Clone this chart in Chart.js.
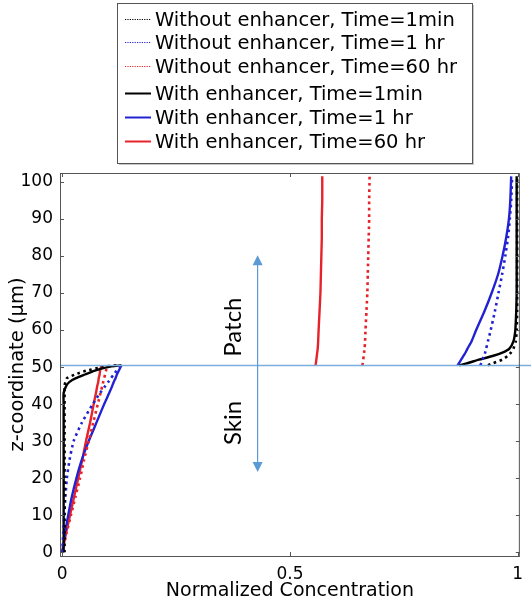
<!DOCTYPE html>
<html><head><meta charset="utf-8">
<script src="https://cdn.jsdelivr.net/npm/chart.js@4.4.1/dist/chart.umd.min.js"></script>
<style>html,body{margin:0;padding:0;background:#fff;}canvas{display:block;}</style>
</head><body>
<canvas id="c" width="531" height="607"></canvas>
<script>
// ---------- DATA ----------
const seriesLabels = [
  'Without enhancer, Time=1min',
  'Without enhancer, Time=1 hr',
  'Without enhancer, Time=60 hr',
  'With enhancer, Time=1min',
  'With enhancer, Time=1 hr',
  'With enhancer, Time=60 hr'
];
const skinZ  = [0,5,10,15,20,25,30,35,40,43,45,46,47,48,49,50,50.5];
const patchZ = [50.5,51,52,53,54,55,57,60,65,70,75,80,85,90,95,101.5];

// skin layer (z = 0..50.5), normalized concentration
const woSkin1min  = [0.005,0.005,0.005,0.005,0.005,0.005,0.005,0.005,0.005,0.005,0.005,0.007,0.010,0.028,0.052,0.088,0.120];
const woSkin1hr   = [0,0.002,0.004,0.007,0.010,0.016,0.025,0.043,0.067,0.083,0.095,0.101,0.107,0.113,0.119,0.125,0.128];
const woSkin60hr  = [0,0.009,0.019,0.029,0.039,0.048,0.058,0.068,0.078,0.084,0.088,0.090,0.092,0.094,0.096,0.098,0.099];
const wSkin1min   = [0.003,0.003,0.003,0.003,0.003,0.003,0.003,0.003,0.003,0.003,0.009,0.016,0.030,0.050,0.070,0.100,0.130];
const wSkin1hr    = [0,0.006,0.013,0.021,0.031,0.043,0.058,0.075,0.092,0.103,0.110,0.113,0.117,0.120,0.124,0.128,0.130];
const wSkin60hr   = [0,0.008,0.017,0.026,0.035,0.044,0.052,0.061,0.069,0.074,0.077,0.079,0.080,0.082,0.083,0.085,0.086];

// patch layer (z = 50.5..101.5)
const woPatch1min = [0.935,0.945,0.966,0.978,0.986,0.991,0.996,0.998,0.999,0.999,0.999,0.999,0.999,0.999,0.999,0.999];
const woPatch1hr  = [0.918,0.920,0.923,0.926,0.929,0.931,0.935,0.941,0.950,0.958,0.966,0.973,0.979,0.983,0.986,0.988];
const woPatch60hr = [0.659,0.660,0.661,0.662,0.663,0.664,0.665,0.666,0.668,0.670,0.671,0.672,0.673,0.674,0.674,0.675];
const wPatch1min  = [0.872,0.888,0.915,0.945,0.968,0.982,0.991,0.995,0.997,0.998,0.998,0.998,0.998,0.998,0.998,0.998];
const wPatch1hr   = [0.868,0.871,0.876,0.881,0.886,0.890,0.899,0.909,0.927,0.943,0.957,0.967,0.975,0.981,0.984,0.986];
const wPatch60hr  = [0.556,0.557,0.558,0.559,0.560,0.561,0.562,0.563,0.565,0.567,0.568,0.569,0.570,0.570,0.571,0.571];

const xTicks = [0, 0.5, 1];
const yTicks = [0,10,20,30,40,50,60,70,80,90,100];
const interfaceZ = 50.5;
const regionLabels = ['Patch', 'Skin'];

// ---------- BUILD ----------
const BLACK = '#000000', BLUE = '#2222d4', RED = '#e6222a';
function pts(zs, cs) { return zs.map((z, i) => ({ x: cs[i], y: z })); }
function series(label, skin, patch, color, dotted) {
  return {
    label,
    data: pts(skinZ, skin).concat([{ x: null, y: null }], pts(patchZ, patch)),
    borderColor: color, backgroundColor: color,
    borderWidth: dotted ? 2.6 : 2.4,
    borderDash: dotted ? [2.6, 3.6] : [],
    borderCapStyle: 'butt',
    showLine: true, pointRadius: 0, tension: 0.2, spanGaps: false,
    _dotted: dotted
  };
}
const datasets = [
  series(seriesLabels[0], woSkin1min, woPatch1min, BLACK, true),
  series(seriesLabels[1], woSkin1hr, woPatch1hr, BLUE, true),
  series(seriesLabels[2], woSkin60hr, woPatch60hr, RED, true),
  series(seriesLabels[3], wSkin1min, wPatch1min, BLACK, false),
  series(seriesLabels[4], wSkin1hr, wPatch1hr, BLUE, false),
  series(seriesLabels[5], wSkin60hr, wPatch60hr, RED, false)
];

const decor = {
  id: 'decor',
  afterDatasetsDraw(chart) {
    const ctx = chart.ctx, a = chart.chartArea;
    const xs = chart.scales.x, ys = chart.scales.y;
    ctx.save();
    // interface line
    const yi = Math.round(ys.getPixelForValue(interfaceZ)) + 0.5;
    ctx.strokeStyle = '#7aaede'; ctx.lineWidth = 1.3;
    ctx.beginPath(); ctx.moveTo(a.left, yi); ctx.lineTo(chart.width, yi); ctx.stroke();
    // arrow
    const ax = xs.getPixelForValue(0.429);
    const yTop = ys.getPixelForValue(80.2), yBot = ys.getPixelForValue(21.7);
    ctx.strokeStyle = '#5b9bd5'; ctx.fillStyle = '#5b9bd5'; ctx.lineWidth = 1.2;
    ctx.beginPath(); ctx.moveTo(ax, yTop + 8); ctx.lineTo(ax, yBot - 8); ctx.stroke();
    ctx.beginPath(); ctx.moveTo(ax, yTop); ctx.lineTo(ax - 5, yTop + 10); ctx.lineTo(ax + 5, yTop + 10); ctx.closePath(); ctx.fill();
    ctx.beginPath(); ctx.moveTo(ax, yBot); ctx.lineTo(ax - 5, yBot - 10); ctx.lineTo(ax + 5, yBot - 10); ctx.closePath(); ctx.fill();
    // region labels
    ctx.fillStyle = '#000'; ctx.font = '24px Lato'; ctx.textAlign = 'center'; ctx.textBaseline = 'middle';
    const tx = xs.getPixelForValue(0.376);
    [[regionLabels[0], 60.8], [regionLabels[1], 34.9]].forEach(([t, z]) => {
      ctx.save(); ctx.translate(tx, ys.getPixelForValue(z)); ctx.rotate(-Math.PI / 2);
      ctx.fillText(t, 0, 0); ctx.restore();
    });
    // frame
    ctx.strokeStyle = '#555'; ctx.lineWidth = 1;
    ctx.strokeRect(a.left + 0.5, a.top + 0.5, a.right - a.left - 1, a.bottom - a.top);
    // inward ticks
    ctx.strokeStyle = '#555';
    ctx.beginPath();
    yTicks.forEach(v => {
      const y = Math.round(ys.getPixelForValue(v)) + 0.5;
      ctx.moveTo(a.left, y); ctx.lineTo(a.left + 4, y);
      ctx.moveTo(a.right, y); ctx.lineTo(a.right - 4, y);
    });
    xTicks.forEach(v => {
      const x = Math.round(xs.getPixelForValue(v)) + 0.5;
      ctx.moveTo(x, a.bottom); ctx.lineTo(x, a.bottom - 4);
      ctx.moveTo(x, a.top); ctx.lineTo(x, a.top + 4);
    });
    ctx.stroke();
    ctx.restore();
  },
  afterDraw(chart) {
    // legend box
    const ctx = chart.ctx;
    ctx.save();
    const L = 117, T = 3, W = 355, H = 160;
    ctx.fillStyle = '#c8c8c8'; ctx.fillRect(L + 2, T + 2, W, H);
    ctx.fillStyle = '#fff'; ctx.fillRect(L, T, W, H);
    ctx.strokeStyle = '#555'; ctx.lineWidth = 1; ctx.strokeRect(L + 0.5, T + 0.5, W, H);
    const rows = [19, 42, 66, 93, 117, 141];
    ctx.font = '19.5px "DejaVu Sans"'; ctx.textBaseline = 'middle'; ctx.textAlign = 'left';
    chart.data.datasets.forEach((d, i) => {
      const y = rows[i] + 0.5;
      ctx.strokeStyle = d.borderColor;
      ctx.lineWidth = d._dotted ? 1 : 2;
      ctx.setLineDash(d._dotted ? [1.2, 1.2] : []);
      ctx.beginPath(); ctx.moveTo(125, y); ctx.lineTo(151, y); ctx.stroke();
      ctx.setLineDash([]);
      ctx.fillStyle = '#000';
      ctx.fillText(d.label, 155, y + 1);
    });
    ctx.restore();
  }
};

new Chart(document.getElementById('c'), {
  type: 'scatter',
  data: { datasets },
  options: {
    responsive: false, animation: false, devicePixelRatio: 1,
    layout: { padding: { top: 173, right: 2, left: 0, bottom: 0 } },
    plugins: { legend: { display: false }, tooltip: { enabled: false } },
    scales: {
      x: {
        type: 'linear', min: -0.005, max: 1.005,
        afterFit(s) { s.height = 51; },
        afterBuildTicks(s) { s.ticks = xTicks.map(v => ({ value: v })); },
        grid: { display: false, drawTicks: false }, border: { display: false },
        ticks: { color: '#000', font: { family: 'DejaVu Sans', size: 17 }, padding: 8, maxRotation: 0, callback: v => String(v) },
        title: { display: true, text: 'Normalized Concentration', color: '#000', font: { family: 'DejaVu Sans', size: 19 }, padding: { top: 0, bottom: 5 } }
      },
      y: {
        type: 'linear', min: -1, max: 102.4,
        afterFit(s) { s.width = 60; },
        afterBuildTicks(s) { s.ticks = yTicks.map(v => ({ value: v })); },
        grid: { display: false, drawTicks: false }, border: { display: false },
        ticks: { color: '#000', font: { family: 'DejaVu Sans', size: 17 }, padding: 7, callback: v => String(v) },
        title: { display: true, text: 'z-coordinate (μm)', color: '#000', font: { family: 'DejaVu Sans', size: 19.5 }, padding: { top: 6, bottom: 0 } }
      }
    }
  },
  plugins: [decor]
});
</script>
</body></html>
